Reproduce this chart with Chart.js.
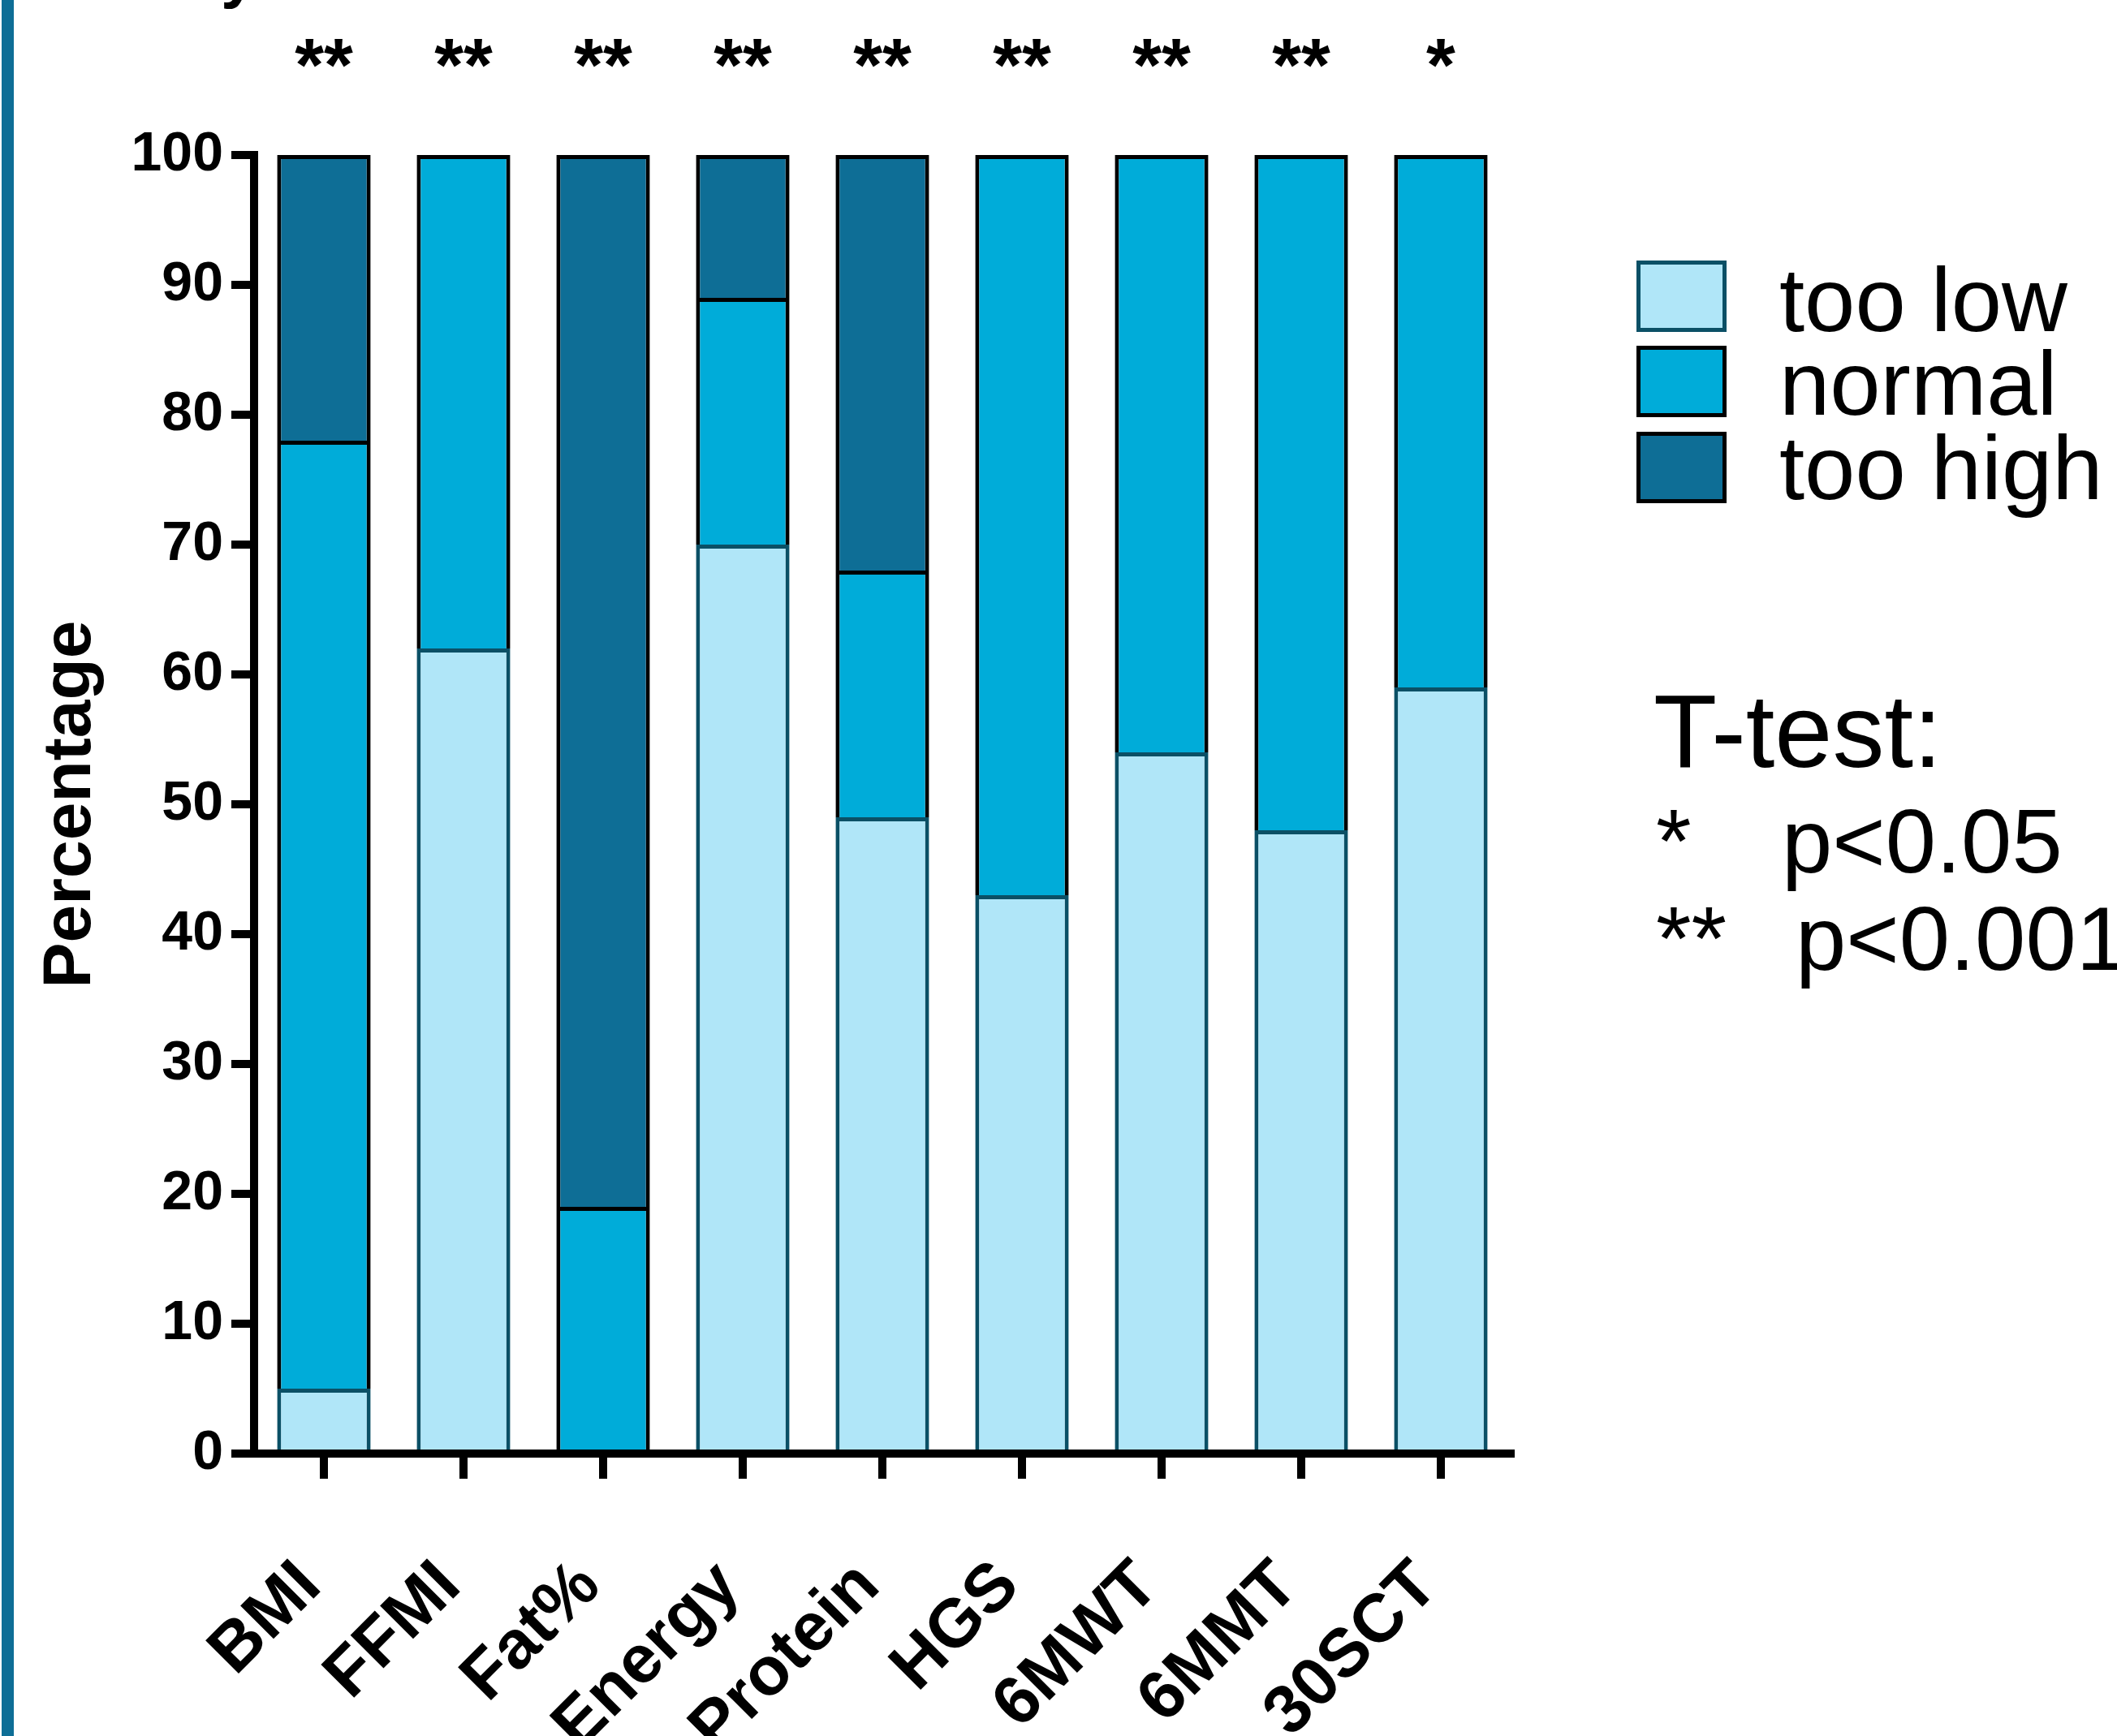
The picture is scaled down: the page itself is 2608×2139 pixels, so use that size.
<!DOCTYPE html>
<html>
<head>
<meta charset="utf-8">
<title>Stacked percentage chart</title>
<script src="https://cdn.jsdelivr.net/npm/chart.js@4.4.1/dist/chart.umd.min.js"></script>
<style>
  html, body { margin: 0; padding: 0; background: #fff; }
  #wrap { position: relative; width: 2608px; height: 2139px; overflow: hidden; }
  #wrap canvas { position: absolute; left: 0; top: 0; }
  #strip { position: absolute; left: 2px; top: 0; width: 15px; height: 100%; background: #0e6e96; }
</style>
</head>
<body>
<div id="wrap">
  <canvas id="chart" width="2608" height="2139"></canvas>
  <div id="strip"></div>
</div>
<script>
// data (percent of patients)
const categories = ['BMI', 'FFMI', 'Fat%', 'Energy', 'Protein', 'HGS', '6MWT', '6MMT', '30SCT'];
const tooLow  = [5, 62, 0, 70, 49, 43, 54, 48, 59];
const normal  = [73, 38, 19, 19, 19, 57, 46, 52, 41];
const tooHigh = [22, 0, 81, 11, 32, 0, 0, 0, 0];
const significance = ['**', '**', '**', '**', '**', '**', '**', '**', '*'];
const seriesNames = ['too low', 'normal', 'too high'];
const yMin = 0;
const yMax = 100;
const yStep = 10;
const noteTitle = 'T-test:';
const noteMarks = ['*', '**'];
const noteTexts = ['p<0.05', 'p<0.001'];

const FONT = '"Liberation Sans", Arial, Helvetica, sans-serif';
const fills = ['#b0e6f8', '#00acd9', '#0e6e96'];
const borders = ['#0b5066', '#000000', '#000000'];
const seriesData = [tooLow, normal, tooHigh];

// stars, legend and the t-test note are drawn by hand next to the plot
const extras = {
  id: 'extras',
  afterDraw(chart) {
    const ctx = chart.ctx;
    const xScale = chart.scales.x;
    ctx.save();
    ctx.fillStyle = '#000';

    // clipped glyph left over from the original figure title
    ctx.textAlign = 'left';
    ctx.textBaseline = 'alphabetic';
    ctx.font = 'bold 80px ' + FONT;
    ctx.fillText('y', 272, -6);

    // significance stars above every bar
    ctx.textAlign = 'center';
    ctx.font = 'bold 92px ' + FONT;
    significance.forEach((s, i) => {
      ctx.fillText(s, xScale.getPixelForValue(i), 112);
    });

    // legend
    ctx.textAlign = 'left';
    ctx.font = '112px ' + FONT;
    const boxTops = [321, 426, 532];
    const baselines = [408, 511, 615];
    seriesNames.forEach((name, i) => {
      ctx.fillStyle = fills[i];
      ctx.fillRect(2016, boxTops[i], 111, 88);
      ctx.lineWidth = 5;
      ctx.strokeStyle = borders[i];
      ctx.strokeRect(2018.5, boxTops[i] + 2.5, 106, 83);
      ctx.fillStyle = '#000';
      ctx.fillText(name, 2192, baselines[i]);
    });

    // t-test note
    ctx.font = '128px ' + FONT;
    ctx.fillText(noteTitle, 2037, 945);
    ctx.font = '112px ' + FONT;
    const noteBase = [1075, 1195];
    const noteX = [2195, 2212];
    noteMarks.forEach((m, i) => {
      ctx.fillText(m, 2040, noteBase[i]);
      ctx.fillText(noteTexts[i], noteX[i], noteBase[i]);
    });

    ctx.restore();
  }
};

const datasets = seriesNames.map((name, i) => ({
  label: name,
  data: seriesData[i],
  backgroundColor: fills[i],
  borderColor: borders[i],
  borderWidth: 5,
  borderSkipped: 'start',
  barPercentage: 0.67,
  categoryPercentage: 1.0
}));

new Chart(document.getElementById('chart'), {
  type: 'bar',
  data: { labels: categories, datasets: datasets },
  options: {
    responsive: false,
    animation: false,
    devicePixelRatio: 1,
    layout: { padding: { left: 0, top: 191, right: 747, bottom: 0 } },
    plugins: {
      legend: { display: false },
      tooltip: { enabled: false }
    },
    scales: {
      x: {
        stacked: true,
        offset: true,
        afterFit: function(scale) { scale.height = 348; },
        grid: {
          display: true,
          offset: false,
          drawOnChartArea: false,
          drawTicks: true,
          tickLength: 31,
          lineWidth: 10,
          color: '#000'
        },
        border: { display: true, width: 10, color: '#000' },
        ticks: {
          autoSkip: false,
          maxRotation: 45,
          minRotation: 45,
          padding: 34,
          color: '#000',
          font: { family: FONT, size: 84, weight: 'bold', lineHeight: 2.3 },
          // trailing space nudges the rotated labels a little to the left
          callback: function(value) { return this.getLabelForValue(value) + ' '; }
        }
      },
      y: {
        stacked: true,
        min: yMin,
        max: yMax,
        afterFit: function(scale) { scale.width = 313; },
        grid: {
          display: true,
          drawOnChartArea: false,
          drawTicks: true,
          tickLength: 28,
          lineWidth: 10,
          color: '#000'
        },
        border: { display: true, width: 10, color: '#000' },
        ticks: {
          stepSize: yStep,
          padding: 10,
          color: '#000',
          font: { family: FONT, size: 68, weight: 'bold' }
        },
        title: {
          display: true,
          text: 'Percentage',
          color: '#000',
          padding: { top: 37, bottom: 0 },
          font: { family: FONT, size: 84, weight: 'bold' }
        }
      }
    }
  },
  plugins: [extras]
});
</script>
</body>
</html>
